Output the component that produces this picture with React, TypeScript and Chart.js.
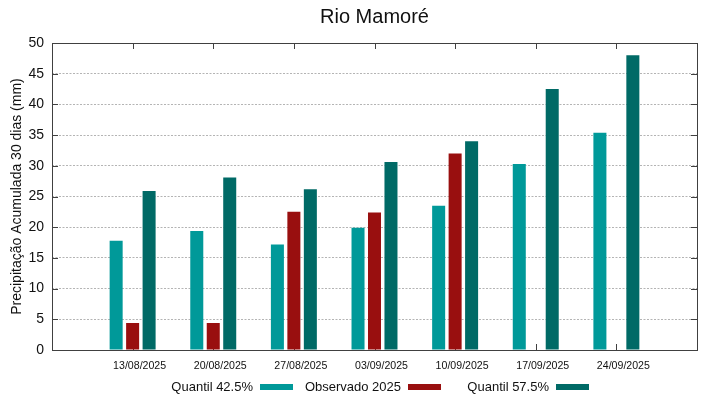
import React, { useEffect, useRef } from "react";
import { Chart, registerables } from "chart.js";

Chart.register(...registerables);

const chartTitle = "Rio Mamoré";
const yAxisTitle = "Precipitação Acumulada 30 dias (mm)";
const categories = [
  "13/08/2025",
  "20/08/2025",
  "27/08/2025",
  "03/09/2025",
  "10/09/2025",
  "17/09/2025",
  "24/09/2025",
];
const seriesNames = ["Quantil 42.5%", "Observado 2025", "Quantil 57.5%"];
const quantil425 = [17.8, 19.4, 17.2, 19.9, 23.5, 30.3, 35.4];
const observado2025 = [4.4, 4.4, 22.5, 22.4, 32.0, null, null];
const quantil575 = [25.9, 28.1, 26.2, 30.6, 34.0, 42.5, 48.0];
const seriesColors = ["#009999", "#990f0f", "#006a66"];
const yMin = 0;
const yMax = 50;
const yStep = 5;

const FONT = "'Liberation Sans', Arial, Helvetica, sans-serif";

export default function App() {
  const ref = useRef<HTMLCanvasElement | null>(null);

  useEffect(() => {
    document.body.style.margin = "0";
    const canvas = ref.current;
    if (!canvas) return;

    const labels = ["", ...categories, ""];
    const pad = (arr: (number | null)[]) => [null, ...arr, null];
    const allSeries = [quantil425, observado2025, quantil575];

    const decor = {
      id: "gnuplotDecor",
      beforeDatasetsDraw(chart: any) {
        const { ctx, chartArea } = chart;
        const xs = chart.scales.x;
        const ys = chart.scales.y;
        ctx.save();
        ctx.strokeStyle = "#404040";
        ctx.lineWidth = 1;
        ctx.beginPath();
        for (let i = 1; i <= categories.length; i++) {
          const x = Math.round(xs.getPixelForValue(i)) + 0.5;
          ctx.moveTo(x, chartArea.bottom);
          ctx.lineTo(x, chartArea.bottom - 6);
          ctx.moveTo(x, chartArea.top);
          ctx.lineTo(x, chartArea.top + 6);
        }
        for (let v = yMin + yStep; v < yMax; v += yStep) {
          const y = Math.round(ys.getPixelForValue(v)) + 0.5;
          ctx.moveTo(chartArea.left, y);
          ctx.lineTo(chartArea.left + 6, y);
          ctx.moveTo(chartArea.right, y);
          ctx.lineTo(chartArea.right - 6, y);
        }
        ctx.stroke();
        ctx.restore();
      },
      afterDatasetsDraw(chart: any) {
        const { ctx, chartArea } = chart;
        ctx.save();
        ctx.strokeStyle = "#404040";
        ctx.lineWidth = 1;
        ctx.strokeRect(
          Math.round(chartArea.left) + 0.5,
          Math.round(chartArea.top) + 0.5,
          Math.round(chartArea.right - chartArea.left),
          Math.round(chartArea.bottom - chartArea.top)
        );
        ctx.restore();
      },
      afterDraw(chart: any) {
        const { ctx, chartArea } = chart;
        const cx = (chartArea.left + chartArea.right) / 2;
        ctx.save();
        ctx.fillStyle = "#111";
        ctx.font = `20px ${FONT}`;
        ctx.textAlign = "center";
        ctx.textBaseline = "middle";
        ctx.fillText(chartTitle, cx, 17);

        ctx.font = `13px ${FONT}`;
        ctx.textAlign = "right";
        const legendY = 387;
        const offsets = [-114.5, 33.5, 181.5];
        chart.data.datasets.forEach((ds: any, i: number) => {
          const sx = cx + offsets[i];
          ctx.fillStyle = "#111";
          ctx.fillText(ds.label, sx - 7, legendY);
          ctx.fillStyle = ds.backgroundColor;
          ctx.fillRect(sx, legendY - 3, 33, 6);
        });
        ctx.restore();
      },
    };

    const chart = new Chart(canvas, {
      type: "bar",
      data: {
        labels,
        datasets: allSeries.map((s, i) => ({
          label: seriesNames[i],
          data: pad(s),
          backgroundColor: seriesColors[i],
          borderWidth: 0,
          categoryPercentage: 0.613,
          barPercentage: 0.79,
        })),
      },
      options: {
        responsive: false,
        animation: false,
        layout: { padding: { top: 43, right: 22, bottom: 0, left: 0 } },
        plugins: {
          legend: { display: false },
          title: { display: false },
          tooltip: { enabled: false },
        },
        scales: {
          x: {
            type: "category",
            offset: false,
            grid: { display: false, drawTicks: false },
            border: { display: false },
            ticks: {
              autoSkip: false,
              maxRotation: 0,
              minRotation: 0,
              padding: 10,
              labelOffset: 7,
              color: "#111",
              font: { family: FONT, size: 10.6 },
            },
            afterFit: (s: any) => {
              s.height = 49;
            },
          },
          y: {
            min: yMin,
            max: yMax,
            grid: { color: "#b4b4b4", drawTicks: false, lineWidth: 1 },
            border: { display: false, dash: [2, 1.5] },
            ticks: {
              stepSize: yStep,
              padding: 8,
              color: "#111",
              font: { family: FONT, size: 14 },
            },
            title: {
              display: true,
              text: yAxisTitle,
              color: "#111",
              font: { family: FONT, size: 14 },
              padding: { top: 9, bottom: 0 },
            },
            afterFit: (s: any) => {
              s.width = 52;
            },
          },
        },
      },
      plugins: [decor],
    });

    return () => chart.destroy();
  }, []);

  return (
    <div style={{ position: "fixed", left: 0, top: 0, width: 719, height: 399, background: "#fff" }}>
      <canvas ref={ref} width={719} height={399} style={{ display: "block" }} />
    </div>
  );
}
